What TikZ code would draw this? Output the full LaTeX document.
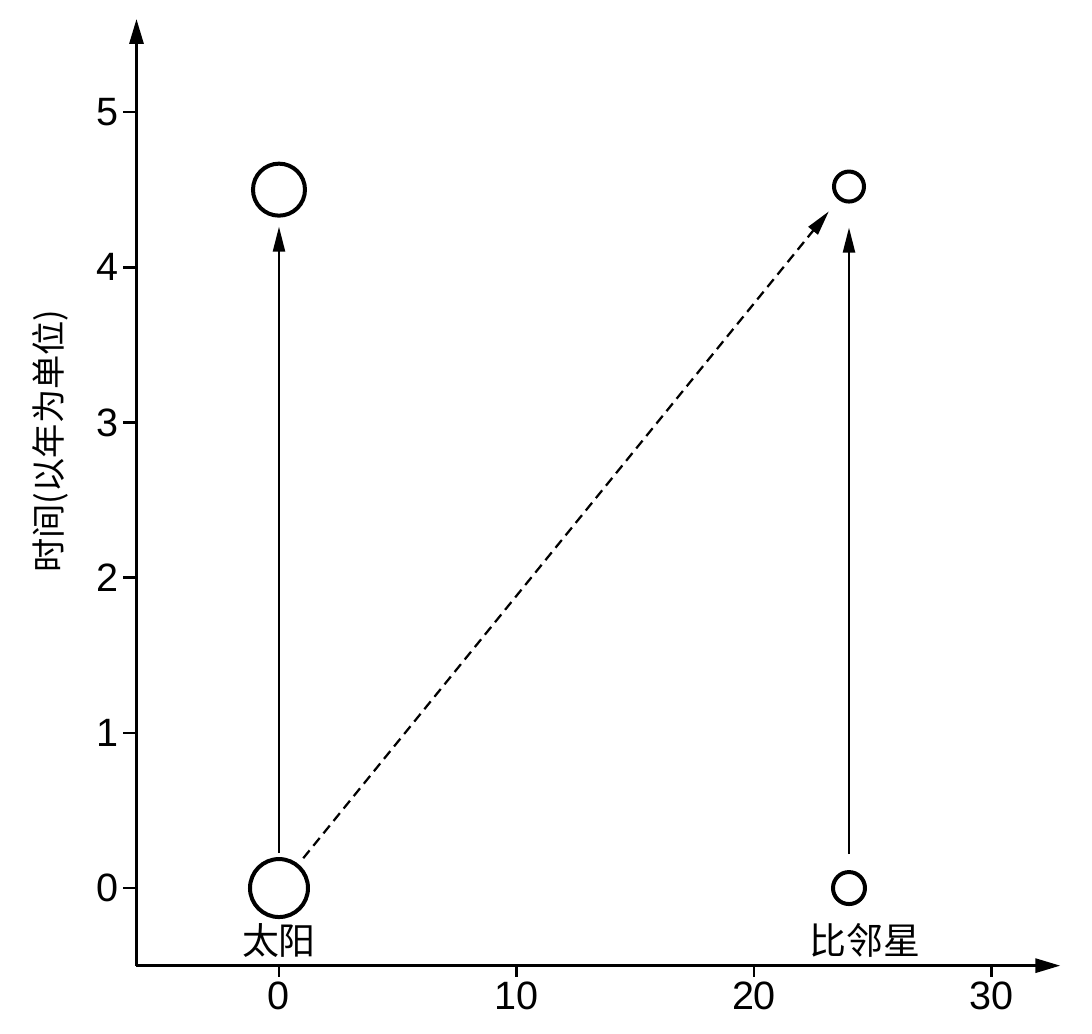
\documentclass[tikz,border=0pt]{standalone}
\usepackage{fontspec}
\setmainfont{Liberation Sans}
\newfontfamily\cjk{Noto Sans CJK SC}
\usepackage{tikz}
\usetikzlibrary{arrows.meta}

\tikzset{
  body/.style={draw, circle, line width=0.08cm, inner sep=0pt},
  axis/.style={line width=0.06cm, -{Triangle[length=0.5cm, width=0.28cm]}},
  arr/.style={line width=0.045cm, -{Triangle[length=0.5cm, width=0.24cm]}},
  ticklbl/.style={font=\fontsize{22.5}{22.5}\selectfont},
  starlbl/.style={font=\cjk\fontsize{21}{21}\selectfont}
}

\begin{document}
\begin{tikzpicture}[x=0.475cm, y=3.104cm]
            				\useasboundingbox (-11.747,-0.934) rectangle (34.232,5.722);
            				% axes
            				\coordinate (o) at (-6,-0.5);
            				\coordinate (xend) at (32.9,-0.5);
            				\coordinate (yend) at (-6,5.6);
            				\draw[axis] (o) -- (xend);
            				\draw[axis] (o) -- (yend);
            				\foreach \x in {0,10,20,30}
            				\draw[line width=0.05cm] (\x,-0.5) -- (\x,-0.57) node[ticklbl, below=-1pt] {\x};
            				\foreach \y in {0,1,2,3,4,5}
            				\draw[line width=0.05cm] (-6,\y) -- (-6.55,\y) node[ticklbl, left=-1pt] {\y};
            				\node[font=\cjk\fontsize{19.5}{19.5}\selectfont, rotate=90] (ylbl) at (-9.64,2.88) {时间(以年为单位)};
            				% world lines
            				\node[body, minimum size=1.16cm] (sun0) at (0,0) {};
            				\node[body, minimum size=1.04cm] (sun45) at (0,4.5) {};
            				\node[body, minimum size=0.64cm] (prox0) at (24,0) {};
            				\node[body, minimum size=0.6cm] (prox45) at (24,4.52) {};
            				\node[starlbl] (sunlbl) at (0,-0.34) {太阳};
            				\node[starlbl] (proxlbl) at (24.67,-0.34) {比邻星};
            				\draw[arr, shorten <=0.08cm, shorten >=0.18cm] (sun0) -- (sun45);
            				\draw[arr, shorten <=0.32cm, shorten >=0.48cm] (prox0) -- (prox45);
            				\draw[arr, dash pattern=on 0.2cm off 0.12cm, shorten <=0.15cm, shorten >=0.3cm] (sun0) -- (prox45);
            			\end{tikzpicture}
\end{document}
